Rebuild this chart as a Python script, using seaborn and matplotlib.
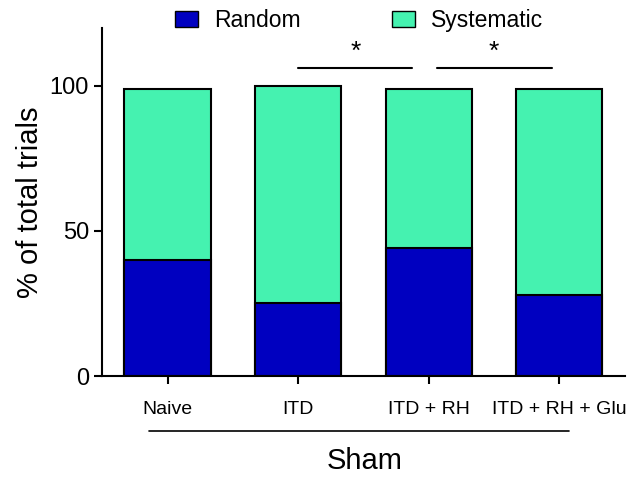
import numpy as np
import pandas as pd
import seaborn as sns
import matplotlib.pyplot as plt
from matplotlib.patches import Patch

groups = ['Naive', 'ITD', 'ITD + RH', 'ITD + RH + Glu']
random_pct = [40, 25, 44, 28]
systematic_pct = [59, 75, 55, 71]

c_random = '#0000C0'
c_syst = '#45F2B0'

sns.set_style('ticks')
plt.rcParams['font.family'] = ['Liberation Sans', 'DejaVu Sans']
plt.rcParams.update({'text.color': 'black', 'axes.labelcolor': 'black',
                     'xtick.color': 'black', 'ytick.color': 'black'})

df = pd.DataFrame({'Group': groups, 'Random': random_pct, 'Systematic': systematic_pct})
df['Total'] = df['Random'] + df['Systematic']

fig = plt.figure(figsize=(6.31, 4.79), dpi=100)
ax = fig.add_axes([0.162, 0.215, 0.828, 0.727])

# stacked: total first, random drawn over it
sns.barplot(data=df, x='Group', y='Total', color=c_syst, edgecolor='black',
            linewidth=1.5, width=0.66, saturation=1, ax=ax)
sns.barplot(data=df, x='Group', y='Random', color=c_random, edgecolor='black',
            linewidth=1.5, width=0.66, saturation=1, ax=ax)

ax.set_xlim(-0.5, 3.5)
ax.set_ylim(0, 120)
ax.set_yticks([0, 50, 100])
ax.set_xlabel('')
ax.set_ylabel('% of total trials', fontsize=21)
ax.tick_params(axis='y', labelsize=17, width=1.5, length=6)
ax.tick_params(axis='x', labelsize=14, width=1.5, length=6, pad=12)
sns.despine(ax=ax)
for s in ['left', 'bottom']:
    ax.spines[s].set_linewidth(1.5)
    ax.spines[s].set_color('black')

# significance bars
for x0, x1, xs in [(1.0, 1.87, 1.44), (2.06, 2.94, 2.5)]:
    ax.plot([x0, x1], [106, 106], color='black', lw=1.5, clip_on=False)
    ax.text(xs, 107.5, '*', ha='center', va='bottom', fontsize=19)

# Sham bracket
ax.plot([0.089, 0.894], [-0.157, -0.157], transform=ax.transAxes, color='black',
        lw=1.2, clip_on=False)
ax.text(0.503, -0.245, 'Sham', transform=ax.transAxes, ha='center', va='center',
        fontsize=21)

handles = [Patch(facecolor=c_random, edgecolor='black', label='Random'),
           Patch(facecolor=c_syst, edgecolor='black', label='Systematic')]
fig.legend(handles=handles, loc='center', bbox_to_anchor=(0.569, 0.958), ncol=2,
           frameon=False, fontsize=16.5, columnspacing=4.0, handlelength=1.0,
           handleheight=0.7, handletextpad=0.7)

fig.savefig('out.png', dpi=100)
